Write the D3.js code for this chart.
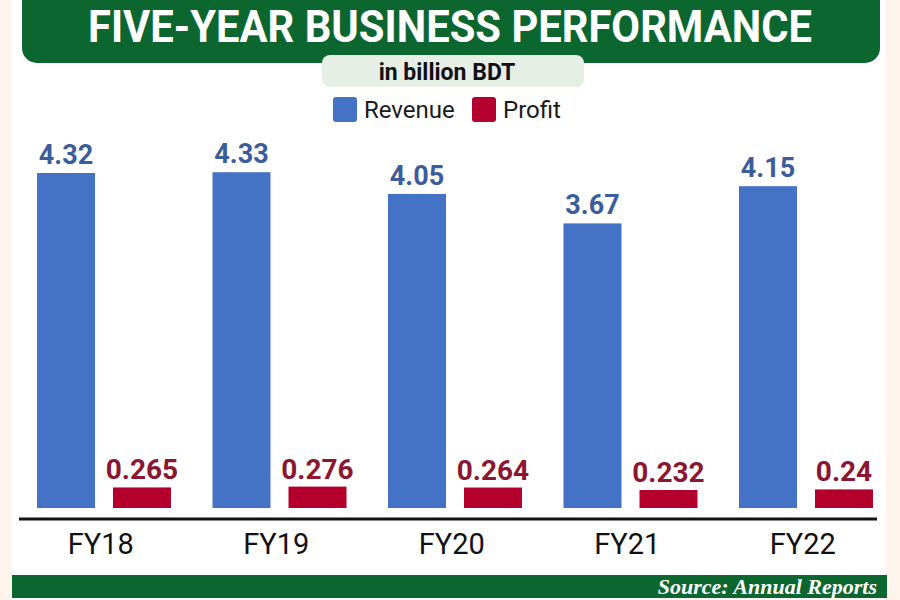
<!DOCTYPE html>
<html>
<head>
<meta charset="utf-8">
<script src="https://cdn.jsdelivr.net/npm/d3@7"></script>
<style>
  body { margin: 0; background: #fdf4ec; }
  svg { display: block; }
</style>
</head>
<body>
<div id="chart"></div>
<script>
// values (billion BDT)
const years = ['FY18', 'FY19', 'FY20', 'FY21', 'FY22'];
const revenue = [4.32, 4.33, 4.05, 3.67, 4.15];
const profit = [0.265, 0.276, 0.264, 0.232, 0.24];
const seriesNames = ['Revenue', 'Profit'];

const width = 900,
	height = 600;

const blue = '#4472c4',
	red = '#b4002c',
	green = '#0c6630';

const svg = d3.select('#chart')
	.append('svg')
	.attr('width', width)
	.attr('height', height);

// white card with cream edges
svg.append('rect')
	.attr('x', 0).attr('y', 0)
	.attr('width', width).attr('height', height)
	.attr('fill', '#fdf4ec');
svg.append('rect')
	.attr('x', 12).attr('y', 0)
	.attr('width', 874).attr('height', height)
	.attr('fill', '#ffffff');

// title banner
svg.append('rect')
	.attr('x', 22).attr('y', -14)
	.attr('width', 858).attr('height', 77)
	.attr('rx', 15)
	.attr('fill', green);
svg.append('text')
	.attr('x', 450).attr('y', 42)
	.attr('text-anchor', 'middle')
	.attr('textLength', 724)
	.attr('lengthAdjust', 'spacingAndGlyphs')
	.style('font-family', 'Roboto, sans-serif')
	.style('font-weight', 700)
	.style('font-size', '44px')
	.style('fill', '#ffffff')
	.text('FIVE-YEAR BUSINESS PERFORMANCE');

// subtitle pill
svg.append('rect')
	.attr('x', 322).attr('y', 55)
	.attr('width', 262).attr('height', 32)
	.attr('rx', 8)
	.attr('fill', '#e6efe6');
svg.append('text')
	.attr('x', 447).attr('y', 80)
	.attr('text-anchor', 'middle')
	.style('font-family', 'Roboto, sans-serif')
	.style('font-weight', 700)
	.style('font-size', '23px')
	.style('fill', '#111')
	.text('in billion BDT');

// legend
const legend = svg.append('g')
	.selectAll('g')
	.data(seriesNames)
	.enter()
	.append('g')
	.attr('transform', (d, i) => 'translate(' + [333, 472][i] + ', 97)');
legend.append('rect')
	.attr('width', 24).attr('height', 25)
	.attr('rx', 3)
	.attr('fill', (d, i) => i === 0 ? blue : red);
legend.append('text')
	.attr('x', 31).attr('y', 21)
	.style('font-family', 'Roboto, sans-serif')
	.style('font-size', '24px')
	.style('fill', '#1a1a1a')
	.text(d => d);

// scales
const xScale = d3.scaleBand()
	.domain(years)
	.range([17, 894.5])
	.paddingInner(0)
	.paddingOuter(0);

const xSub = d3.scaleBand()
	.domain(seriesNames)
	.range([20, 154])
	.paddingInner(0.237);

const yScale = d3.scaleLinear()
	.domain([0, 4.32])
	.range([508, 173]);

const groups = svg.append('g')
	.selectAll('g')
	.data(years)
	.enter()
	.append('g')
	.attr('transform', d => 'translate(' + xScale(d) + ',0)');

// revenue bars
groups.append('rect')
	.attr('class', 'bar')
	.attr('x', xSub('Revenue'))
	.attr('y', (d, i) => yScale(revenue[i]))
	.attr('width', xSub.bandwidth())
	.attr('height', (d, i) => yScale(0) - yScale(revenue[i]))
	.attr('fill', blue);

groups.append('text')
	.attr('x', xSub('Revenue') + xSub.bandwidth() / 2)
	.attr('y', (d, i) => yScale(revenue[i]) - 9)
	.attr('text-anchor', 'middle')
	.style('font-family', 'Roboto, sans-serif')
	.style('font-weight', 700)
	.style('font-size', '27px')
	.style('fill', '#3b5d9a')
	.text((d, i) => revenue[i]);

// profit bars
groups.append('rect')
	.attr('class', 'bar')
	.attr('x', xSub('Profit'))
	.attr('y', (d, i) => yScale(profit[i]))
	.attr('width', xSub.bandwidth())
	.attr('height', (d, i) => yScale(0) - yScale(profit[i]))
	.attr('fill', red);

groups.append('text')
	.attr('x', xSub('Profit') + xSub.bandwidth() / 2)
	.attr('y', (d, i) => yScale(profit[i]) - 8)
	.attr('text-anchor', 'middle')
	.style('font-family', 'Roboto, sans-serif')
	.style('font-weight', 700)
	.style('font-size', '28px')
	.style('fill', '#8a1631')
	.text((d, i) => profit[i]);

// x axis: a plain black base line with the year labels under it
const xAxis = d3.axisBottom(xScale).tickSize(0).tickPadding(14);
const axisG = svg.append('g')
	.attr('transform', 'translate(-4, 519)')
	.call(xAxis);
axisG.select('.domain').remove();
axisG.selectAll('text')
	.style('font-family', 'Roboto, sans-serif')
	.style('font-size', '29px')
	.style('fill', '#111');
svg.append('line')
	.attr('x1', 19).attr('x2', 877)
	.attr('y1', 519).attr('y2', 519)
	.attr('stroke', '#111')
	.attr('stroke-width', 3);

// source strip
svg.append('rect')
	.attr('x', 12).attr('y', 575)
	.attr('width', 875).attr('height', 23)
	.attr('fill', green);
svg.append('text')
	.attr('x', 877).attr('y', 594)
	.attr('text-anchor', 'end')
	.style('font-family', '"Liberation Serif", serif')
	.style('font-style', 'italic')
	.style('font-weight', 700)
	.style('font-size', '22px')
	.style('fill', '#ffffff')
	.text('Source: Annual Reports');
</script>
</body>
</html>
